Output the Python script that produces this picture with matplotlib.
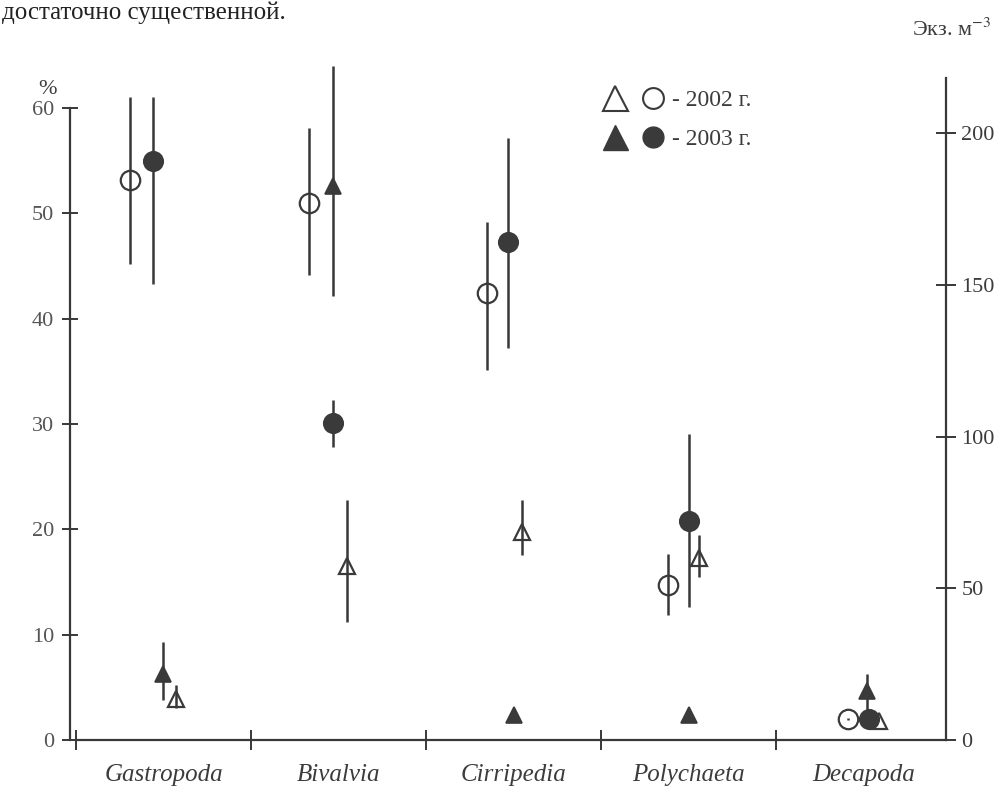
import numpy as np
import matplotlib
matplotlib.use("Agg")
import matplotlib.pyplot as plt
from matplotlib.lines import Line2D
from matplotlib.legend_handler import HandlerTuple

plt.rcParams['font.family'] = ['Liberation Serif', 'DejaVu Serif']
plt.rcParams['mathtext.fontset'] = 'stix'

# ---------------- data ----------------
categories = ["Gastropoda", "Bivalvia", "Cirripedia", "Polychaeta", "Decapoda"]

# percentages (left axis, %), circles
pct_2002    = [53.2, 51.0, 42.4, 14.7, 2.0]
pct_2002_lo = [45.2, 44.2, 35.1, 11.9, 1.9]
pct_2002_hi = [61.1, 58.1, 49.2, 17.7, 2.1]
pct_2003    = [55.0, 30.1, 47.3, 20.8, 2.0]
pct_2003_lo = [43.3, 27.8, 37.2, 12.6, 2.0]
pct_2003_hi = [61.1, 32.3, 57.2, 29.1, 2.0]

# abundance (right axis, ind. m^-3), triangles
abund_2002    = [13.5, 57.3, 68.7, 60.0, 6.2]
abund_2002_lo = [10.4, 38.9, 61.1, 53.8, 6.2]
abund_2002_hi = [18.0, 79.1, 79.1, 67.7, 6.2]
abund_2003    = [21.9, 182.5, 8.3, 8.3, 16.0]
abund_2003_lo = [13.2, 146.4, 8.3, 8.3, 7.6]
abund_2003_hi = [32.3, 222.1, 8.3, 8.3, 21.9]

left_ticks = [0, 10, 20, 30, 40, 50, 60]
right_ticks = [0, 50, 100, 150, 200]

# ---------------- layout (offsets within category) ----------------
off_c02 = [-0.19, -0.17, -0.15, -0.12, -0.09]
off_c03 = [-0.06, -0.03, -0.03, 0.00, 0.03]
off_t02 = [0.07, 0.05, 0.05, 0.06, 0.09]
off_t03 = [0.00, -0.03, 0.00, 0.00, 0.02]

DARK = '#3a3a3a'
LINE = '#383838'
TXT = '#3c3c3c'
SCALE = 3.47
YMAX = 65

fig = plt.figure(figsize=(10.04, 8.05), dpi=100)
ax = fig.add_axes([70/1004, 1-740/805, 876/1004, 684.5/805])
ax.set_xlim(-0.034, 4.971)
ax.set_ylim(0, YMAX)
ax2 = ax.twinx()
ax2.set_ylim(0, YMAX*SCALE)

centers = np.arange(len(categories)) + 0.5

def err(v, lo, hi):
    v, lo, hi = map(np.asarray, (v, lo, hi))
    return [v - lo, hi - v]

ekw = dict(ecolor=LINE, elinewidth=1.8, capsize=0, linestyle='none')

# circles on left axis
ax.errorbar(centers + np.array(off_c02), pct_2002, yerr=err(pct_2002, pct_2002_lo, pct_2002_hi),
            marker='o', ms=14, mfc='none', mec=DARK, mew=1.6, zorder=3, **ekw)
ax.errorbar(centers + np.array(off_c03), pct_2003, yerr=err(pct_2003, pct_2003_lo, pct_2003_hi),
            marker='o', ms=14, mfc=DARK, mec=DARK, mew=1.2, zorder=5, **ekw)
# triangles on right axis
ax2.errorbar(centers + np.array(off_t02), abund_2002, yerr=err(abund_2002, abund_2002_lo, abund_2002_hi),
             marker='^', ms=12, mfc='none', mec=DARK, mew=1.6, zorder=2, **ekw)
ax2.errorbar(centers + np.array(off_t03), abund_2003, yerr=err(abund_2003, abund_2003_lo, abund_2003_hi),
             marker='^', ms=12, mfc=DARK, mec=DARK, mew=1.2, zorder=4, **ekw)
ax2.set_zorder(ax.get_zorder() - 1)
ax.patch.set_visible(False)

# spines
for a in (ax, ax2):
    a.spines['top'].set_visible(False)
ax.spines['right'].set_visible(False)
ax2.spines['left'].set_visible(False)
ax2.spines['bottom'].set_visible(False)
ax.spines['left'].set_bounds(0, 60)
ax.spines['bottom'].set_bounds(0, 4.971)
ax2.spines['right'].set_bounds(0, 218)
for s in (ax.spines['left'], ax.spines['bottom'], ax2.spines['right']):
    s.set_color(LINE)
    s.set_linewidth(1.6)

ax.set_yticks(left_ticks)
ax.set_yticklabels([str(t) for t in left_ticks], fontsize=16, color='#555555')
ax.tick_params(axis='y', direction='inout', length=11, width=1.4, color=LINE, pad=6)
ax2.set_yticks(right_ticks)
ax2.set_yticklabels([str(t) for t in right_ticks], fontsize=16, color=TXT)
ax2.tick_params(axis='y', direction='inout', length=14, width=1.4, color=LINE, pad=4)

ax.set_xticks([0, 1, 2, 3, 4])
ax.set_xticklabels([''] * 5)
ax.set_xticks(centers, minor=True)
ax.set_xticklabels(categories, minor=True, fontsize=18, style='italic', color=TXT)
ax.tick_params(axis='x', which='major', direction='inout', length=14, width=1.4, color=LINE)
ax.tick_params(axis='x', which='minor', length=0, pad=17)

# axis titles
fig.text(48/1004, 1-90/805, '%', fontsize=16, color=TXT, ha='center', va='center')
fig.text(952/1004, 1-30/805, 'Экз. м$^{-3}$', fontsize=16, color=TXT, ha='center', va='center')

# legend
h_o_t = Line2D([], [], marker='^', ms=18, mfc='none', mec=DARK, mew=1.5, ls='none')
h_o_c = Line2D([], [], marker='o', ms=15, mfc='none', mec=DARK, mew=1.5, ls='none')
h_f_t = Line2D([], [], marker='^', ms=18, mfc=DARK, mec=DARK, ls='none')
h_f_c = Line2D([], [], marker='o', ms=15, mfc=DARK, mec=DARK, ls='none')
leg = ax.legend([(h_o_t, h_o_c), (h_f_t, h_f_c)], ['- 2002 г.', '- 2003 г.'],
                handler_map={tuple: HandlerTuple(ndivide=None, pad=0.6)},
                loc='upper left', bbox_to_anchor=(582/1004, 1-68/805),
                bbox_transform=fig.transFigure, frameon=False, fontsize=17,
                handlelength=2.6, handletextpad=0.3, labelspacing=0.75)
for t in leg.get_texts():
    t.set_color(TXT)

# fragment of page text above the chart
fig.text(2/1004, 1-19/805, 'достаточно существенной.', fontsize=18, color='#222222',
         ha='left', va='baseline')

fig.savefig('out.png', dpi=100, facecolor='white')
